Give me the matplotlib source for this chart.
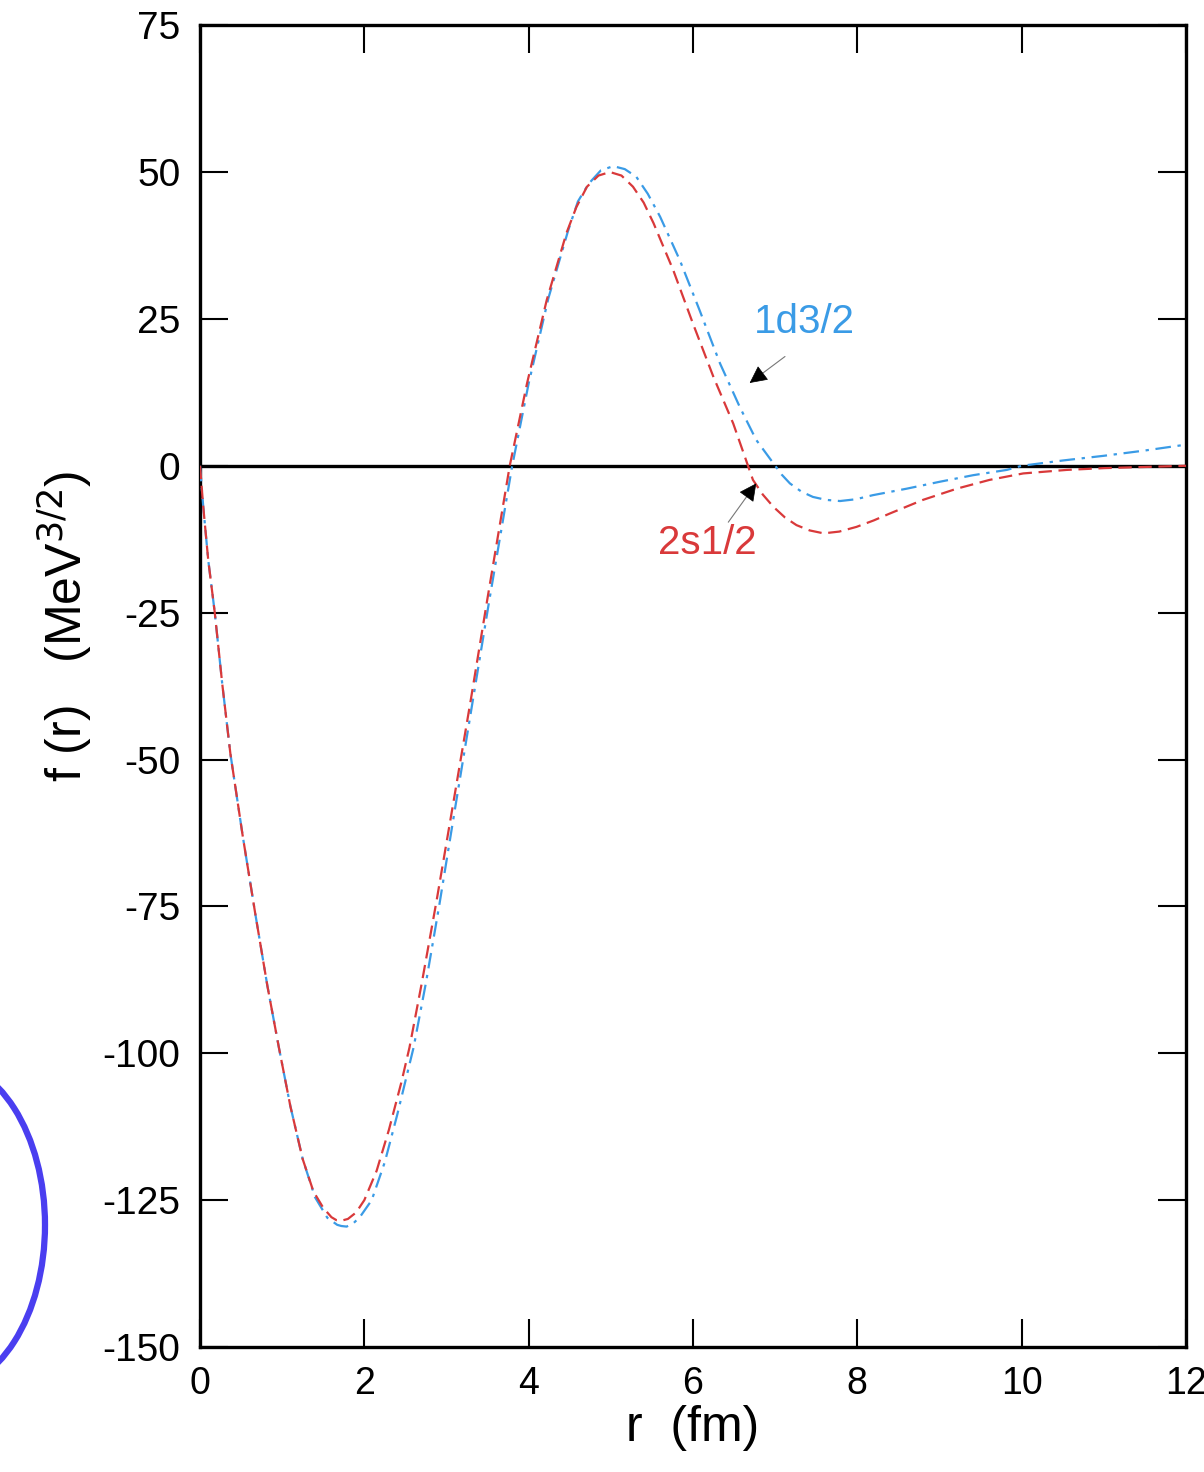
import matplotlib
matplotlib.use("Agg")
import matplotlib.pyplot as plt
from matplotlib.patches import Ellipse

plt.rcParams['font.family'] = ['Liberation Sans', 'DejaVu Sans']
plt.rcParams['axes.unicode_minus'] = False

# 2s1/2 (red, dashed)
r_2s = [0, 0.04, 0.1, 0.18, 0.27, 0.37, 0.52, 0.67, 0.82, 0.96, 1.1, 1.25, 1.38, 1.5, 1.6, 1.66,
        1.72, 1.8, 1.9, 2.0, 2.15, 2.3, 2.45, 2.55, 2.7, 2.88, 3.1, 3.3, 3.5, 3.77, 3.98, 4.22,
        4.46, 4.58, 4.71, 4.85, 4.99, 5.13, 5.27, 5.4, 5.52, 5.76, 6.0, 6.25, 6.49, 6.67, 6.73,
        6.85, 6.98, 7.12, 7.26, 7.42, 7.59, 7.78, 7.99, 8.2, 8.4, 8.8, 9.21, 9.61, 10.02, 10.55,
        11.0, 11.5, 12.0]
f_2s = [0, -7, -16, -25, -37, -49, -63, -76, -88.5, -99, -109, -118, -123.5, -126.3, -127.9, -128.4,
        -128.5, -128.2, -127.1, -125, -120, -113, -105, -99, -88, -74, -56, -39.5, -22.5, 0, 14, 28.2,
        39.6, 44.0, 47.5, 49.4, 50, 49.4, 47.5, 44.8, 41.3, 33.3, 24.2, 15.1, 7.2, 0, -2.4,
        -4.9, -7, -8.8, -10.1, -11.0, -11.5, -11.2, -10.4, -9.3, -8.1, -5.8, -3.9, -2.4, -1.3, -0.7,
        -0.4, -0.2, 0]

# 1d3/2 (blue, dash-dot)
r_1d = [0, 0.04, 0.1, 0.18, 0.27, 0.37, 0.52, 0.67, 0.82, 0.96, 1.1, 1.25, 1.4, 1.55, 1.67, 1.72,
        1.785, 1.87, 1.95, 2.09, 2.25, 2.4, 2.6, 2.75, 2.91, 3.12, 3.32, 3.52, 3.8, 4.0, 4.24, 4.48,
        4.6, 4.73, 4.88, 5.03, 5.17, 5.31, 5.45, 5.6, 5.84, 6.08, 6.33, 6.57, 6.77, 6.98, 7.08,
        7.18, 7.32, 7.46, 7.62, 7.79, 7.98, 8.19, 8.6, 9.01, 9.41, 9.82, 10.0, 10.5, 11.0, 11.5,
        12.0]
f_1d = [0, -7, -16, -25, -37, -49, -63, -76, -88.5, -99, -109, -118, -124.5, -128, -129.2, -129.4,
        -129.5, -128.9, -127.8, -125, -118.5, -110.5, -99, -88, -75, -57, -40, -23, 0, 14, 28.5, 40,
        45, 48, 50.3, 51, 50.5, 49.2, 46.3, 42.4, 35, 26.5, 17.4, 10, 4.4, 0.4, -1.5,
        -3, -4.4, -5.3, -5.8, -6, -5.7, -5, -3.9, -2.7, -1.6, -0.7, 0, 0.9, 1.7, 2.6,
        3.6]

x_ticks = [0, 2, 4, 6, 8, 10, 12]
y_ticks = [-150, -125, -100, -75, -50, -25, 0, 25, 50, 75]

red = '#d9393a'
blue = '#3a9be6'

fig = plt.figure(figsize=(12.04, 14.72), dpi=100)

# blue arc at lower left (partly cut off by the figure edge)
bg = fig.add_axes([0, 0, 1, 1])
bg.set_xlim(0, 1204)
bg.set_ylim(1472, 0)
bg.axis('off')
bg.add_patch(Ellipse((-60, 1225), 210, 330, fill=False, edgecolor='#4a3ef0', linewidth=4.5))

ax = fig.add_axes([0.1661, 0.0849, 0.8189, 0.898])
ax.axhline(0, color='black', linewidth=2.4, zorder=1)
ax.plot(r_1d, f_1d, color=blue, linewidth=1.6, dashes=(7, 3, 1.5, 3), zorder=3)
ax.plot(r_2s, f_2s, color=red, linewidth=1.6, dashes=(6, 3), zorder=3)

ax.set_xlim(0, 12)
ax.set_ylim(-150, 75)
ax.set_xticks(x_ticks)
ax.set_yticks(y_ticks)
ax.tick_params(direction='in', length=20, width=1.5, top=True, right=True,
               labelsize=28, pad=14)
ax.tick_params(axis='x', labelsize=27)
for s in ax.spines.values():
    s.set_linewidth(2.4)

ax.set_xlabel('r  (fm)', fontsize=36, labelpad=2)
ax.set_ylabel('f (r)   (MeV$^{3/2}$)', fontsize=36)
ax.yaxis.set_label_coords(-0.108, 0.545)

# label arrows: thin grey shaft, black head
for tail, head in [((7.12, 18.6), (6.69, 14.1)), ((6.43, -9.6), (6.77, -3.0))]:
    ax.annotate('', xy=head, xytext=tail,
                arrowprops=dict(arrowstyle='-', color='#777777', lw=0.8, shrinkA=0, shrinkB=2))
    hx = head[0] + (tail[0] - head[0]) * 0.25
    hy = head[1] + (tail[1] - head[1]) * 0.25
    ax.annotate('', xy=head, xytext=(hx, hy),
                arrowprops=dict(arrowstyle='-|>', color='black', lw=0.5,
                                mutation_scale=28, shrinkA=0, shrinkB=0))

ax.text(7.36, 24.4, '1d3/2', color=blue, fontsize=29, ha='center', va='center')
ax.text(6.17, -13.2, '2s1/2', color=red, fontsize=29, ha='center', va='center')

fig.savefig('out.png', dpi=100)
